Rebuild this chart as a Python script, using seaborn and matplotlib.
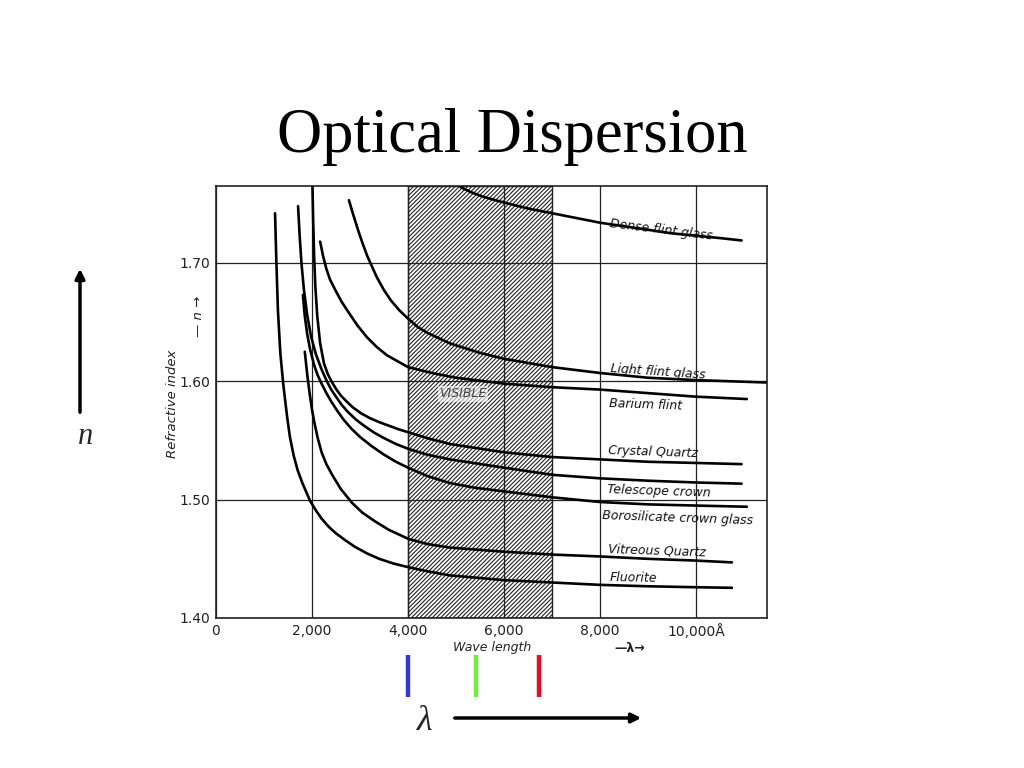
import matplotlib
matplotlib.use("Agg")
import matplotlib.pyplot as plt
import matplotlib.transforms as mtransforms
from matplotlib.patches import FancyArrowPatch
import pandas as pd
import seaborn as sns

# refractive index n against wavelength (Angstrom)
dense_flint_wl = [4950, 5100, 5300, 5560, 6000, 6500, 7000, 7500, 8000, 8500, 9000, 9500, 10000, 10500, 10950]
dense_flint_n = [1.772, 1.764, 1.760, 1.756, 1.751, 1.746, 1.742, 1.738, 1.734, 1.731, 1.728, 1.725, 1.723, 1.721, 1.719]

light_flint_wl = [2770, 2850, 2950, 3050, 3150, 3350, 3500, 3650, 3820, 4000, 4200, 4400, 4875, 5500, 6000, 7000, 8000, 9000, 10000, 11450]
light_flint_n = [1.753, 1.742, 1.729, 1.717, 1.706, 1.688, 1.677, 1.668, 1.660, 1.653, 1.646, 1.641, 1.632, 1.624, 1.619, 1.612, 1.607, 1.603, 1.601, 1.599]

barium_flint_wl = [2170, 2230, 2300, 2375, 2500, 2620, 2750, 2950, 3150, 3350, 3560, 3780, 4000, 4500, 5000, 6000, 7000, 8000, 9000, 10000, 11060]
barium_flint_n = [1.718, 1.706, 1.695, 1.686, 1.676, 1.667, 1.659, 1.647, 1.637, 1.629, 1.622, 1.617, 1.612, 1.607, 1.603, 1.598, 1.595, 1.593, 1.590, 1.587, 1.585]

crystal_quartz_wl = [2000, 2010, 2025, 2045, 2070, 2110, 2170, 2250, 2330, 2420, 2510, 2600, 2720, 2850, 3020, 3200, 3400, 3600, 3800, 4000, 4400, 4875, 6000, 7000, 8000, 9000, 10000, 10950]
crystal_quartz_n = [1.780, 1.765, 1.735, 1.705, 1.680, 1.655, 1.632, 1.615, 1.606, 1.599, 1.593, 1.588, 1.583, 1.578, 1.573, 1.569, 1.5655, 1.5625, 1.5595, 1.557, 1.552, 1.547, 1.540, 1.536, 1.534, 1.532, 1.531, 1.530]

telescope_crown_wl = [1710, 1740, 1780, 1830, 1900, 1980, 2080, 2200, 2310, 2400, 2500, 2620, 2750, 2920, 3100, 3300, 3500, 3750, 4000, 4400, 4875, 6000, 7000, 8000, 9000, 10000, 10950]
telescope_crown_n = [1.748, 1.725, 1.700, 1.678, 1.656, 1.638, 1.623, 1.610, 1.600, 1.593, 1.587, 1.580, 1.574, 1.5675, 1.562, 1.5565, 1.552, 1.547, 1.543, 1.538, 1.534, 1.527, 1.521, 1.518, 1.516, 1.5145, 1.5135]

borosilicate_wl = [1810, 1850, 1900, 1960, 2050, 2120, 2200, 2300, 2400, 2520, 2650, 2820, 3000, 3250, 3500, 3750, 4000, 4400, 4875, 5400, 6000, 7000, 8000, 9000, 10000, 11060]
borosilicate_n = [1.673, 1.655, 1.640, 1.627, 1.613, 1.605, 1.598, 1.590, 1.583, 1.5755, 1.568, 1.560, 1.553, 1.545, 1.538, 1.532, 1.527, 1.520, 1.514, 1.510, 1.507, 1.502, 1.498, 1.496, 1.495, 1.494]

vitreous_quartz_wl = [1850, 1900, 1950, 2000, 2050, 2120, 2200, 2300, 2420, 2600, 2830, 3050, 3300, 3600, 4000, 4400, 4875, 6000, 7000, 8000, 9000, 10000, 10750]
vitreous_quartz_n = [1.625, 1.606, 1.590, 1.576, 1.565, 1.552, 1.540, 1.530, 1.521, 1.509, 1.4975, 1.489, 1.482, 1.4745, 1.467, 1.4625, 1.4595, 1.456, 1.4536, 1.452, 1.450, 1.4485, 1.447]

fluorite_wl = [1230, 1255, 1290, 1340, 1400, 1480, 1540, 1620, 1700, 1800, 1960, 2080, 2200, 2350, 2500, 2700, 2900, 3150, 3400, 3700, 4000, 4400, 4875, 6000, 7000, 8000, 9000, 10000, 10750]
fluorite_n = [1.742, 1.705, 1.660, 1.624, 1.598, 1.5705, 1.553, 1.537, 1.525, 1.514, 1.499, 1.491, 1.484, 1.477, 1.4715, 1.4655, 1.460, 1.4545, 1.450, 1.446, 1.443, 1.4395, 1.436, 1.432, 1.430, 1.428, 1.4268, 1.426, 1.4255]

material_names = ["Dense flint glass", "Light flint glass", "Barium flint", "Crystal Quartz",
                  "Telescope crown", "Borosilicate crown glass", "Vitreous Quartz", "Fluorite"]

visible_band = [4000, 7000]
spectrum_lines = [4000, 5420, 6730]   # blue, green, red markers under the chart
x_ticks = [0, 2000, 4000, 6000, 8000, 10000]
x_tick_labels = ["0", "2,000", "4,000", "6,000", "8,000", "10,000Å"]
y_ticks = [1.40, 1.50, 1.60, 1.70]
y_tick_labels = ["1.40", "1.50", "1.60", "1.70"]

curves = [(dense_flint_wl, dense_flint_n), (light_flint_wl, light_flint_n),
          (barium_flint_wl, barium_flint_n), (crystal_quartz_wl, crystal_quartz_n),
          (telescope_crown_wl, telescope_crown_n), (borosilicate_wl, borosilicate_n),
          (vitreous_quartz_wl, vitreous_quartz_n), (fluorite_wl, fluorite_n)]
rows = []
for name, (wl, n) in zip(material_names, curves):
    for w, v in zip(wl, n):
        rows.append({"material": name, "wavelength": w, "n": v})
df = pd.DataFrame(rows)

sns.set_theme(style="white")
plt.rcParams['font.family'] = ['DejaVu Sans']
plt.rcParams['hatch.linewidth'] = 0.8
plt.rcParams['hatch.color'] = '#222222'

fig = plt.figure(figsize=(10.24, 7.68), dpi=100)
ax = fig.add_axes([216 / 1024, 150 / 768, 551 / 1024, 432 / 768])

# hatched visible region
ax.axvspan(visible_band[0], visible_band[1], facecolor='white', edgecolor='#222222',
           hatch='////////', lw=1.0, zorder=1)

sns.lineplot(data=df, x='wavelength', y='n', units='material', estimator=None,
             color='black', lw=1.9, ax=ax, legend=False, zorder=3)

ax.set_xlim(0, 11480)
ax.set_ylim(1.4, 1.765)
ax.set_xticks(x_ticks)
ax.set_xticklabels(x_tick_labels)
ax.set_yticks(y_ticks)
ax.set_yticklabels(y_tick_labels)
ax.tick_params(length=0, labelsize=10, pad=4, colors='#222222')
ax.grid(True, color='#222222', lw=0.9)
ax.set_axisbelow(False)
ax.set_xlabel("")
ax.set_ylabel("")
for s in ax.spines.values():
    s.set_color('#222222')
    s.set_linewidth(1.2)

# curve labels
label_pos = {
    "Dense flint glass": (8210, 1.733, -7),
    "Light flint glass": (8210, 1.6105, -4),
    "Barium flint": (8190, 1.581, -2),
    "Crystal Quartz": (8170, 1.5413, -2),
    "Telescope crown": (8150, 1.5085, -2),
    "Borosilicate crown glass": (8040, 1.4865, -2),
    "Vitreous Quartz": (8170, 1.4586, -2),
    "Fluorite": (8210, 1.4342, -1),
}
for name in material_names:
    x, y, rot = label_pos[name]
    ax.text(x, y, name, fontsize=9, style='italic', ha='left', va='center',
            rotation=rot, rotation_mode='anchor', color='#111111', zorder=4)

ax.text(5150, 1.5895, "VISIBLE", fontsize=9, style='italic', ha='center', va='center',
        color='#444444', zorder=4,
        bbox=dict(facecolor='white', edgecolor='none', alpha=0.6, pad=1))

# axis titles of the scanned chart
fig.text(172 / 1024, 1 - 404 / 768, "Refractive index", rotation=90, style='italic',
         fontsize=9.5, ha='center', va='center', color='#222222')
fig.text(198 / 1024, 1 - 316 / 768, "— n →", rotation=90, style='italic',
         fontsize=9.5, ha='center', va='center', color='#222222')
fig.text(492 / 1024, 1 - 648 / 768, "Wave length", style='italic',
         fontsize=9, ha='center', va='center', color='#222222')
fig.text(630 / 1024, 1 - 648 / 768, "—λ→", fontsize=9, fontweight='bold',
         ha='center', va='center', color='#222222')

# slide decorations
fig.text(0.5, 1 - 137 / 768, "Optical Dispersion", ha='center', va='center',
         family='Liberation Serif', fontsize=45, color='black')

fig.add_artist(FancyArrowPatch((80 / 1024, 1 - 415 / 768), (80 / 1024, 1 - 266 / 768),
                               transform=fig.transFigure, arrowstyle='-|>',
                               mutation_scale=14, lw=2.5, color='black'))
fig.text(86 / 1024, 1 - 437 / 768, "n", family='Liberation Serif', style='italic',
         fontsize=22, ha='center', va='center')

fig.add_artist(FancyArrowPatch((452 / 1024, 1 - 718 / 768), (644 / 1024, 1 - 718 / 768),
                               transform=fig.transFigure, arrowstyle='-|>',
                               mutation_scale=14, lw=2.5, color='black'))
fig.text(425 / 1024, 1 - 722 / 768, "λ", family='Liberation Serif', style='italic',
         fontsize=26, ha='center', va='center')

trans = mtransforms.blended_transform_factory(ax.transData, fig.transFigure)
line_colors = ['#3838c8', '#6cf03a', '#e01020']
for wl, c in zip(spectrum_lines, line_colors):
    ax.plot([wl, wl], [1 - 655 / 768, 1 - 697 / 768], color=c, lw=3.2,
            transform=trans, clip_on=False, solid_capstyle='butt')

ax.set_xlim(0, 11480)
ax.set_ylim(1.4, 1.765)

fig.savefig("out.png", dpi=100)
